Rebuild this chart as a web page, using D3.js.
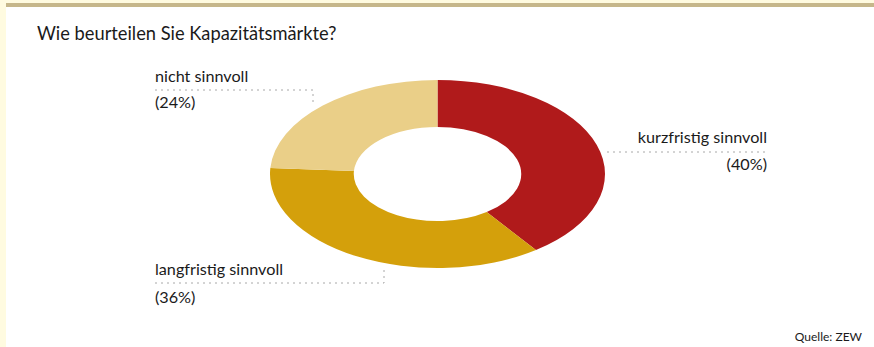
<!DOCTYPE html>
<html>
<head>
<meta charset="utf-8">
<script src="https://cdn.jsdelivr.net/npm/d3@7"></script>
<style>
  html, body { margin: 0; padding: 0; background: #ffffff; }
  svg { display: block; }
  text { font-family: Lato, "Noto Sans", sans-serif; fill: #1a1a1a; }
</style>
</head>
<body>
<svg id="chart" width="874" height="347"></svg>
<script>
// Survey answers: share of respondents (%)
const categories = ["kurzfristig sinnvoll", "langfristig sinnvoll", "nicht sinnvoll"];
const shares = [40, 36, 24];
const sliceColors = ["#b01a1b", "#d4a00b", "#eacf88"];
const titleText = "Wie beurteilen Sie Kapazitätsmärkte?";
const sourceText = "Quelle: ZEW";

const width = 874, height = 347;
const svg = d3.select("#chart");

// frame: pale left strip and khaki top rule
svg.append("rect").attr("x", 0).attr("y", 0).attr("width", width).attr("height", 3).attr("fill", "#fffbe0");
svg.append("rect").attr("x", 0).attr("y", 0).attr("width", 6).attr("height", height).attr("fill", "#fffbe0");
svg.append("rect").attr("x", 6).attr("y", 3).attr("width", width - 6).attr("height", 4).attr("fill", "#c6b78b");

svg.append("text")
  .attr("x", 37).attr("y", 40)
  .attr("font-size", 18.3)
  .text(titleText);

svg.append("text")
  .attr("x", 862).attr("y", 341)
  .attr("text-anchor", "end")
  .attr("font-size", 12)
  .text(sourceText);

// elliptical donut: circular arcs squashed vertically
const cx = 437.5, cy = 174;
const outerR = 167.5, innerR = 83.75;
const ySquash = 94 / 167.5;

const data = categories.map((c, i) => ({ name: c, value: shares[i], color: sliceColors[i] }));
const pie = d3.pie().sort(null).value(d => d.value);
const arc = d3.arc().innerRadius(innerR).outerRadius(outerR);

const g = svg.append("g").attr("transform", `translate(${cx},${cy}) scale(1,${ySquash})`);
g.selectAll("path")
  .data(pie(data))
  .join("path")
  .attr("d", arc)
  .attr("fill", d => d.data.color);

// labels with dotted leader lines
const labels = [
  { name: categories[0], value: shares[0], anchor: "end", x: 767, nameY: 143, valY: 170,
    line: [[607, 152], [767, 152]] },
  { name: categories[1], value: shares[1], anchor: "start", x: 155, nameY: 275, valY: 303,
    line: [[155, 283], [384, 283], [384, 268]] },
  { name: categories[2], value: shares[2], anchor: "start", x: 155, nameY: 82, valY: 108,
    line: [[155, 90], [313, 90], [313, 106]] }
];

const lineGen = d3.line();
labels.forEach(l => {
  svg.append("path")
    .attr("d", lineGen(l.line))
    .attr("fill", "none")
    .attr("stroke", "#a8a8a8")
    .attr("stroke-width", 1)
    .attr("stroke-dasharray", "2,4");
  svg.append("text")
    .attr("x", l.x).attr("y", l.nameY)
    .attr("text-anchor", l.anchor)
    .attr("font-size", 16.2)
    .text(l.name);
  svg.append("text")
    .attr("x", l.x).attr("y", l.valY)
    .attr("text-anchor", l.anchor)
    .attr("font-size", 16.2)
    .text(`(${l.value}%)`);
});
</script>
</body>
</html>
